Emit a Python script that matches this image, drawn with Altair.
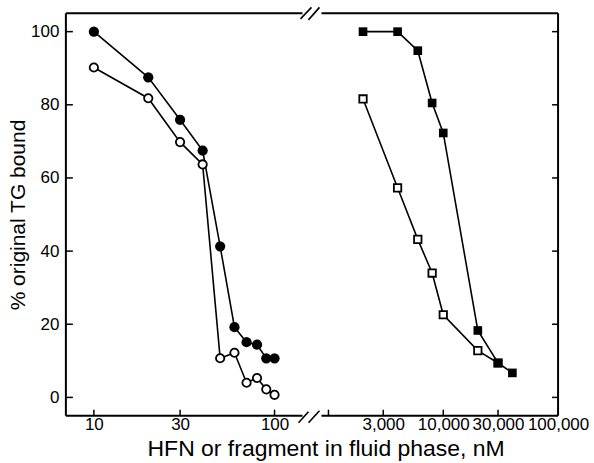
import altair as alt
import pandas as pd

# ---- data ----
hfn_x = [10, 20, 30, 40, 50, 60, 70, 80, 90, 100]
hfn_filled = [100, 87.5, 75.9, 67.5, 41.3, 19.2, 15.1, 14.4, 10.7, 10.7]
hfn_open = [90.2, 81.8, 69.8, 63.7, 10.7, 12.2, 4.0, 5.3, 2.2, 0.7]

frag_filled_x = [2000, 4000, 6000, 8000, 10000, 20000, 30000, 40000]
frag_filled = [100, 100, 94.8, 80.5, 72.3, 18.3, 9.4, 6.7]
frag_open_x = [2000, 4000, 6000, 8000, 10000, 20000, 30000]
frag_open = [81.6, 57.3, 43.2, 34.0, 22.6, 12.8, 9.4]

left_ticks = [10, 30, 100]
right_ticks = [1000, 3000, 10000, 30000]
right_labels = [3000, 10000, 30000, 100000]
y_ticks = [0, 20, 40, 60, 80, 100]

x_title = "HFN or fragment in fluid phase, nM"
y_title = "% original TG bound"

# ---- tables ----
df_lf = pd.DataFrame({"x": hfn_x, "y": hfn_filled})
df_lo = pd.DataFrame({"x": hfn_x, "y": hfn_open})
df_rf = pd.DataFrame({"x": frag_filled_x, "y": frag_filled})
df_ro = pd.DataFrame({"x": frag_open_x, "y": frag_open})
df_lt = pd.DataFrame({"x": left_ticks})
df_rt = pd.DataFrame({"x": right_ticks})
df_yt = pd.DataFrame({"y": y_ticks})
df_one = pd.DataFrame({"k": [0]})

FONT = "Liberation Sans"
W1, W2, H = 237, 237, 403
yscale = alt.Scale(domain=[-5, 105], nice=False, zero=False)
lscale = alt.Scale(type="log", domain=[7.0, 142.8], nice=False)
rscale = alt.Scale(type="log", domain=[869, 100000], nice=False)

common_axis = dict(grid=False, ticks=False, domain=False,
                   labelFont=FONT, labelFontSize=17, labelColor="black",
                   labelFlush=False, labelOverlap=False)

left_xaxis = alt.Axis(orient="bottom", values=left_ticks, format="d", labelPadding=1,
                      title=None, **common_axis)
left_yaxis = alt.Axis(orient="left", values=y_ticks, labelPadding=7,
                      title=y_title, titleFont=FONT, titleFontSize=21, titlePadding=2,
                      titleFontWeight="normal", titleColor="black", **common_axis)
right_xaxis = alt.Axis(orient="bottom", values=right_labels, format=",", labelPadding=1,
                       title=None, **common_axis)
right_yaxis = alt.Axis(orient="right", values=y_ticks, labels=False, title=None,
                       grid=False, ticks=False, domain=False)


def data_layers(dff, dfo, xscale, xaxis, yaxis, shape, size_f, size_o):
    X = alt.X("x:Q", scale=xscale, axis=xaxis)
    Y = alt.Y("y:Q", scale=yscale, axis=yaxis)
    lf = alt.Chart(dff).mark_line(color="black", strokeWidth=1.6).encode(x=X, y=Y)
    lo = alt.Chart(dfo).mark_line(color="black", strokeWidth=1.6).encode(x=X, y=Y)
    po = alt.Chart(dfo).mark_point(shape=shape, size=size_o, filled=True, fill="white",
                                  stroke="black", strokeWidth=1.8, opacity=1).encode(x=X, y=Y)
    pf = alt.Chart(dff).mark_point(shape=shape, size=size_f, filled=True,
                                  color="black", opacity=1).encode(x=X, y=Y)
    return [lf, lo, po, pf]


def rule(**kw):
    return alt.Chart(df_one).mark_rule(color="black", strokeWidth=2).encode(
        **{k: alt.value(v) for k, v in kw.items()})


def slash(x1, y1, x2, y2):
    return alt.Chart(df_one).mark_rule(color="black", strokeWidth=1.6).encode(
        x=alt.value(x1), y=alt.value(y1), x2=alt.value(x2), y2=alt.value(y2))


# ---- left panel ----
l_xt = alt.Chart(df_lt).mark_rule(color="black", strokeWidth=1.5).encode(
    x=alt.X("x:Q", scale=lscale, axis=left_xaxis),
    y=alt.value(H), y2=alt.value(H - 6))
l_yt = alt.Chart(df_yt).mark_rule(color="black", strokeWidth=1.5).encode(
    y=alt.Y("y:Q", scale=yscale, axis=left_yaxis),
    x=alt.value(0), x2=alt.value(7))
l_frame = [rule(x=0, x2=W1, y=0), rule(x=0, x2=W1, y=H), rule(x=0, y=0, y2=H)]
l_breaks = [slash(W1 - 2, 5.5, W1 + 9, -6), slash(W1 + 6, 6.5, W1 + 17, -6),
            slash(W1 - 4, H + 7, W1 + 6, H - 4), slash(W1 + 6, H + 7, W1 + 17, H - 5)]

left = alt.layer(*data_layers(df_lf, df_lo, lscale, left_xaxis, left_yaxis, "circle", 105, 70),
                 l_xt, l_yt, *l_frame, *l_breaks).properties(width=W1, height=H)

# ---- right panel ----
r_xt = alt.Chart(df_rt).mark_rule(color="black", strokeWidth=1.5).encode(
    x=alt.X("x:Q", scale=rscale, axis=right_xaxis),
    y=alt.value(H), y2=alt.value(H - 6))
r_yt = alt.Chart(df_yt).mark_rule(color="black", strokeWidth=1.5).encode(
    y=alt.Y("y:Q", scale=yscale, axis=right_yaxis),
    x=alt.value(W2), x2=alt.value(W2 - 6))
r_frame = [rule(x=0, x2=W2, y=0), rule(x=0, x2=W2, y=H), rule(x=W2, y=0, y2=H)]

right = alt.layer(*data_layers(df_rf, df_ro, rscale, right_xaxis, right_yaxis, "square", 75, 55),
                  r_xt, r_yt, *r_frame).properties(width=W2, height=H)

chart = alt.hconcat(left, right, spacing=0).configure_view(
    stroke=None).properties(
    title=alt.TitleParams(text=x_title, orient="bottom", anchor="middle", font=FONT,
                          fontSize=23, fontWeight="normal", color="black", offset=5, dx=28),
    padding={"left": 7, "top": 6, "right": 5, "bottom": 0},
    background="white")

chart.save("out.html", embed_options={"renderer": "svg", "actions": False})
